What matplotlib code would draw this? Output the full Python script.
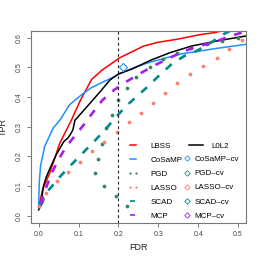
import matplotlib
matplotlib.use("Agg")
import matplotlib.pyplot as plt
from matplotlib.lines import Line2D

plt.rcParams['font.family'] = ['Liberation Sans', 'DejaVu Sans']

# ---- data ----
lbss_fdr = [0.0, 0.01, 0.028, 0.053, 0.082, 0.105, 0.133, 0.16, 0.19, 0.204, 0.263, 0.30, 0.347, 0.406, 0.44, 0.48]
lbss_tpr = [0.03, 0.089, 0.145, 0.245, 0.322, 0.39, 0.46, 0.492, 0.52, 0.533, 0.572, 0.585, 0.595, 0.611, 0.617, 0.63]

cosamp_fdr = [0.0, 0.002, 0.005, 0.015, 0.036, 0.053, 0.078, 0.105, 0.13, 0.155, 0.19, 0.205, 0.24, 0.28, 0.355, 0.44, 0.52]
cosamp_tpr = [0.04, 0.12, 0.17, 0.233, 0.295, 0.322, 0.375, 0.405, 0.43, 0.447, 0.469, 0.48, 0.5, 0.518, 0.545, 0.563, 0.578]

l0l2_fdr = [0.0, 0.008, 0.012, 0.009, 0.012, 0.019, 0.03, 0.045, 0.063, 0.074, 0.082, 0.086, 0.091, 0.128, 0.154, 0.179, 0.2, 0.233, 0.282, 0.33, 0.383, 0.45, 0.52]
l0l2_tpr = [0.02, 0.04, 0.05, 0.07, 0.1, 0.13, 0.165, 0.208, 0.25, 0.263, 0.28, 0.29, 0.322, 0.378, 0.418, 0.458, 0.478, 0.494, 0.525, 0.55, 0.572, 0.59, 0.606]

pgd_fdr = [0.221, 0.193, 0.165, 0.142, 0.148, 0.16, 0.169, 0.183, 0.198, 0.221, 0.244, 0.278, 0.312, 0.346, 0.383, 0.421, 0.46, 0.5]
pgd_tpr = [0.032, 0.067, 0.102, 0.143, 0.193, 0.241, 0.295, 0.341, 0.39, 0.432, 0.469, 0.503, 0.527, 0.548, 0.567, 0.578, 0.589, 0.6]

lasso_fdr = [0.0, 0.019, 0.045, 0.074, 0.103, 0.134, 0.165, 0.196, 0.227, 0.257, 0.286, 0.316, 0.347, 0.379, 0.412, 0.446, 0.478, 0.511]
lasso_tpr = [0.032, 0.077, 0.116, 0.149, 0.183, 0.217, 0.249, 0.281, 0.315, 0.348, 0.381, 0.415, 0.448, 0.477, 0.506, 0.533, 0.563, 0.591]

scad_fdr = [0.005, 0.019, 0.053, 0.081, 0.108, 0.135, 0.162, 0.191, 0.217, 0.244, 0.274, 0.306, 0.335, 0.366, 0.397, 0.431, 0.465, 0.49]
scad_tpr = [0.035, 0.077, 0.131, 0.171, 0.208, 0.245, 0.283, 0.328, 0.367, 0.4, 0.436, 0.478, 0.513, 0.539, 0.556, 0.583, 0.613, 0.63]

mcp_fdr = [0.005, 0.02, 0.035, 0.05, 0.07, 0.09, 0.115, 0.137, 0.16, 0.19, 0.22, 0.26, 0.295, 0.33, 0.36, 0.395, 0.44, 0.475, 0.515]
mcp_tpr = [0.04, 0.1, 0.15, 0.19, 0.235, 0.268, 0.31, 0.35, 0.39, 0.425, 0.452, 0.484, 0.51, 0.533, 0.552, 0.57, 0.585, 0.603, 0.62]

cosamp_cv = (0.212, 0.5)

fdr_cut = 0.2
x_ticks = [0.0, 0.1, 0.2, 0.3, 0.4, 0.5]
y_ticks = [0.0, 0.1, 0.2, 0.3, 0.4, 0.5, 0.6]

# ---- colours ----
c_lbss = '#FF0000'
c_cosamp = '#1E90FF'
c_l0l2 = '#000000'
c_pgd = '#2E8B57'
c_lasso = '#FA8072'
c_scad = '#008B8B'
c_mcp = '#A020F0'

fig = plt.figure(figsize=(2.62, 2.62), dpi=100)
ax = fig.add_axes([0.117, 0.149, 0.822, 0.734])

ax.plot(lbss_fdr, lbss_tpr, color=c_lbss, lw=1.1)
ax.plot(cosamp_fdr, cosamp_tpr, color=c_cosamp, lw=1.1)
ax.plot(l0l2_fdr, l0l2_tpr, color=c_l0l2, lw=1.1)
ax.plot(pgd_fdr, pgd_tpr, ls='none', marker='o', ms=2.7, mew=0, color=c_pgd)
ax.plot(lasso_fdr, lasso_tpr, ls='none', marker='o', ms=2.7, mew=0, color=c_lasso)
ax.plot(scad_fdr, scad_tpr, color=c_scad, lw=1.9, dashes=(3.0, 3.4))
ax.plot(mcp_fdr, mcp_tpr, color=c_mcp, lw=1.9, dashes=(3.0, 3.4))
ax.plot([cosamp_cv[0]], [cosamp_cv[1]], ls='none', marker='D', ms=4.3, mfc='none', mec=c_cosamp, mew=0.8)
ax.axvline(fdr_cut, color='#222222', lw=0.8, dashes=(2.5, 2.5))

ax.set_xlim(-0.02, 0.52)
ax.set_ylim(-0.024, 0.624)
ax.set_xticks(x_ticks)
ax.set_yticks(y_ticks)
ax.set_xticklabels([f'{v:.1f}' for v in x_ticks])
ax.set_yticklabels([f'{v:.1f}' for v in y_ticks], rotation=90, va='center')
ax.tick_params(direction='out', length=3, width=0.6, colors='#666666', labelcolor='#444444', labelsize=5, pad=2.5)
for s in ax.spines.values():
    s.set_color('#777777')
    s.set_linewidth(0.8)
ax.set_xlabel('FDR', fontsize=6.5, color='#222222', labelpad=4)
ax.set_ylabel('TPR', fontsize=6.5, color='#222222', labelpad=6)

# legends
h1 = [Line2D([], [], color=c_lbss, lw=1.1),
      Line2D([], [], color=c_cosamp, lw=1.1),
      Line2D([], [], ls='none', marker='o', ms=1.6, mew=0, color=c_pgd),
      Line2D([], [], ls='none', marker='o', ms=1.6, mew=0, color=c_lasso),
      Line2D([], [], color=c_scad, lw=1.2, dashes=(3, 3)),
      Line2D([], [], color=c_mcp, lw=1.2, dashes=(3, 3))]
l1 = ['LBSS', 'CoSaMP', 'PGD', 'LASSO', 'SCAD', 'MCP']
leg1 = ax.legend(h1, l1, loc='upper left', bbox_to_anchor=(0.452, 0.42), frameon=False,
                 fontsize=5.8, numpoints=2, handlelength=1.3, handletextpad=1.5,
                 labelspacing=0.8, borderpad=0, borderaxespad=0)
ax.add_artist(leg1)

leg2 = ax.legend([Line2D([], [], color=c_l0l2, lw=1.1)], ['L0L2'], loc='upper left',
                 bbox_to_anchor=(0.735, 0.42), frameon=False, fontsize=5.8,
                 handlelength=1.8, handletextpad=1.0, borderpad=0, borderaxespad=0)
ax.add_artist(leg2)

cv_cols = [c_cosamp, c_pgd, c_lasso, c_scad, c_mcp]
h3 = [Line2D([], [], ls='none', marker='D', ms=2.8, mfc='none', mec=c, mew=0.6) for c in cv_cols]
l3 = ['CoSaMP\u2013cv', 'PGD\u2013cv', 'LASSO\u2013cv', 'SCAD\u2013cv', 'MCP\u2013cv']
leg3 = ax.legend(h3, l3, loc='upper left', bbox_to_anchor=(0.715, 0.35), frameon=False,
                 fontsize=5.8, numpoints=1, handlelength=0.6, handletextpad=0.6,
                 labelspacing=0.8, borderpad=0, borderaxespad=0)

fig.savefig('out.png', dpi=100)
